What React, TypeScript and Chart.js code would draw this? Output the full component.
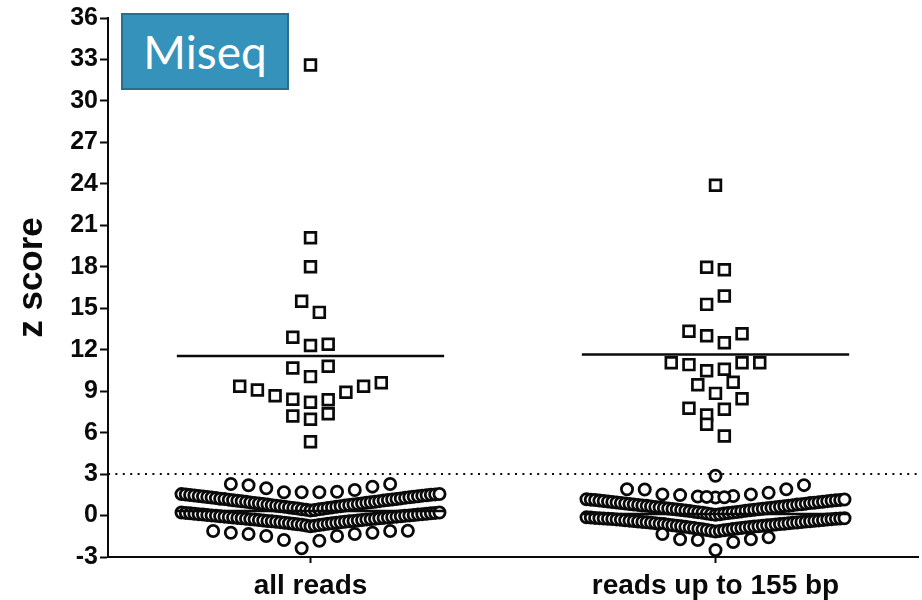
import { useEffect, useRef } from 'react';
import { Chart, registerables } from 'chart.js';

Chart.register(...registerables);

// ---- data -------------------------------------------------------------
const categories = ['all reads', 'reads up to 155 bp'];
const yAxisTitle = 'z score';
const panelLabel = 'Miseq';
const yMin = -3;
const yMax = 36;
const yStep = 3;
const cutoff = 3;

// Positive samples (squares), one array per dot-plot row, left to right
const allReadsPositiveRows: number[][] = [
  [32.6],
  [20.1],
  [18.0],
  [15.5, 14.7],
  [12.9, 12.3, 12.4],
  [10.67, 10.05, 10.8],
  [9.35, 9.08, 8.67, 8.41, 8.19, 8.38, 8.92, 9.35, 9.61],
  [7.2, 6.96, 7.37],
  [5.34],
];

const shortReadsPositiveRows: number[][] = [
  [23.9],
  [17.96, 17.79],
  [15.28, 15.88],
  [13.33, 13.01, 12.5, 13.16],
  [11.06, 10.92, 10.48, 10.58, 11.06, 11.06],
  [9.47, 8.84, 9.64],
  [7.76, 7.27, 7.69, 8.45],
  [6.6, 5.75],
];

// Negative samples (circles), left to right within each row
const allReadsUpperBand = [
  1.55, 1.52, 1.49, 1.45, 1.41, 1.38, 1.34, 1.30, 1.26, 1.22, 1.19, 1.15, 1.11, 1.07, 1.03,
  0.99, 0.95, 0.91, 0.87, 0.83, 0.79, 0.75, 0.71, 0.67, 0.63, 0.59, 0.55, 0.51, 0.46, 0.41,
  0.36,
  0.40, 0.45, 0.50, 0.55, 0.59, 0.63, 0.67, 0.72, 0.76, 0.80, 0.84, 0.88, 0.92, 0.96, 1.00,
  1.04, 1.08, 1.12, 1.16, 1.20, 1.24, 1.28, 1.32, 1.36, 1.40, 1.44, 1.47, 1.50, 1.53, 1.56,
];
const allReadsLowerBand = [
  0.22, 0.19, 0.16, 0.13, 0.10, 0.07, 0.04, 0.01, -0.02, -0.05, -0.08, -0.11, -0.14, -0.17, -0.20,
  -0.23, -0.26, -0.29, -0.32, -0.36, -0.39, -0.42, -0.45, -0.48, -0.52, -0.55, -0.59, -0.63, -0.67, -0.72,
  -0.78,
  -0.73, -0.68, -0.64, -0.60, -0.56, -0.52, -0.49, -0.45, -0.42, -0.39, -0.36, -0.32, -0.29, -0.26, -0.23,
  -0.20, -0.17, -0.14, -0.11, -0.08, -0.05, -0.02, 0.01, 0.04, 0.07, 0.10, 0.13, 0.16, 0.19, 0.22,
];
const allReadsTopRow = [2.28, 2.19, 1.97, 1.68, 1.68, 1.68, 1.72, 1.85, 2.09, 2.28];
const allReadsBottomRow = [-1.12, -1.24, -1.34, -1.48, -1.77, -2.37, -1.82, -1.48, -1.34, -1.24, -1.12, -1.1];

const shortReadsUpperBand = [
  1.18, 1.15, 1.12, 1.08, 1.05, 1.01, 0.98, 0.94, 0.91, 0.87, 0.84, 0.80, 0.77, 0.73, 0.70,
  0.66, 0.62, 0.59, 0.55, 0.51, 0.47, 0.44, 0.40, 0.36, 0.32, 0.28, 0.24, 0.20, 0.15, 0.10,
  0.05,
  0.09, 0.14, 0.18, 0.22, 0.26, 0.30, 0.34, 0.38, 0.42, 0.46, 0.49, 0.53, 0.57, 0.60, 0.64,
  0.68, 0.71, 0.75, 0.79, 0.82, 0.86, 0.90, 0.93, 0.97, 1.00, 1.04, 1.07, 1.10, 1.13, 1.16,
];
const shortReadsLowerBand = [
  -0.13, -0.15, -0.17, -0.19, -0.21, -0.23, -0.25, -0.28, -0.31, -0.34, -0.37, -0.40, -0.43, -0.46, -0.49,
  -0.52, -0.55, -0.59, -0.62, -0.66, -0.70, -0.74, -0.78, -0.82, -0.86, -0.90, -0.95, -1.00, -1.05, -1.10,
  -1.16,
  -1.11, -1.06, -1.02, -0.98, -0.94, -0.90, -0.86, -0.83, -0.80, -0.77, -0.74, -0.71, -0.68, -0.65, -0.62,
  -0.59, -0.56, -0.53, -0.50, -0.47, -0.44, -0.41, -0.38, -0.35, -0.32, -0.29, -0.26, -0.24, -0.22, -0.20,
];
const shortReadsTopRow = [1.9, 1.88, 1.53, 1.48, 1.38, 1.3, 1.41, 1.53, 1.65, 1.9, 2.2];
const shortReadsTopPair = [1.35, 1.32];
const shortReadsPeak = [2.88];
const shortReadsBottomRow = [-1.34, -1.72, -1.77, -2.5, -1.92, -1.72, -1.58];

const allReadsNegativeRows = [allReadsUpperBand, allReadsLowerBand, allReadsTopRow, allReadsBottomRow];
const shortReadsNegativeRows = [
  shortReadsUpperBand,
  shortReadsLowerBand,
  shortReadsTopRow,
  shortReadsTopPair,
  shortReadsPeak,
  shortReadsBottomRow,
];

// ---- layout helpers ---------------------------------------------------
const INK = '#0a0a0a';
const FONT = "'Liberation Sans', Arial, Helvetica, sans-serif";
const SLOT = 0.0437; // horizontal distance between neighbouring symbols (x units)
const MAX_ROW = 0.637; // widest a row may spread inside a column (x units)
const MEAN_HALF = 0.33; // half length of the mean bar

type Pt = { x: number; y: number };

// spread each row evenly around the column centre, compressing long rows
function spreadRows(center: number, rows: number[][]): Pt[] {
  const pts: Pt[] = [];
  rows.forEach((row) => {
    const n = row.length;
    const step = n > 1 ? Math.min(SLOT, MAX_ROW / (n - 1)) : 0;
    row.forEach((v, i) => pts.push({ x: center + (i - (n - 1) / 2) * step, y: v }));
  });
  return pts;
}

function meanOf(rows: number[][]): number {
  const all = rows.flat();
  return all.reduce((s, v) => s + v, 0) / all.length;
}

function meanBar(center: number, rows: number[][]) {
  const m = meanOf(rows);
  return {
    type: 'line' as const,
    data: [
      { x: center - MEAN_HALF, y: m },
      { x: center + MEAN_HALF, y: m },
    ],
    showLine: true,
    borderColor: INK,
    borderWidth: 2.5,
    pointRadius: 0,
  };
}

const yTitlePlugin = {
  id: 'yTitle',
  afterDraw(chart: any) {
    const { ctx, chartArea } = chart;
    ctx.save();
    ctx.translate(32, (chartArea.top + chartArea.bottom) / 2 - 10);
    ctx.rotate(-Math.PI / 2);
    ctx.font = `bold 35px ${FONT}`;
    ctx.fillStyle = INK;
    ctx.textAlign = 'center';
    ctx.textBaseline = 'middle';
    ctx.fillText(yAxisTitle, 0, 0);
    ctx.restore();
  },
};

export default function App() {
  const canvasRef = useRef<HTMLCanvasElement | null>(null);

  useEffect(() => {
    if (!canvasRef.current) return;
    const positives = [allReadsPositiveRows, shortReadsPositiveRows];
    const negatives = [allReadsNegativeRows, shortReadsNegativeRows];

    const datasets: any[] = [
      {
        type: 'line',
        data: [
          { x: 0.5, y: cutoff },
          { x: 2.5, y: cutoff },
        ],
        showLine: true,
        borderColor: INK,
        borderWidth: 2,
        borderDash: [2, 5.4],
        pointRadius: 0,
      },
      ...positives.map((rows, i) => meanBar(i + 1, rows)),
      ...negatives.map((rows, i) => meanBar(i + 1, rows)),
      ...positives.map((rows, i) => ({
        type: 'scatter',
        data: spreadRows(i + 1, rows),
        pointStyle: 'rect',
        pointRadius: 7.6,
        borderWidth: 2.7,
        borderColor: INK,
        backgroundColor: '#ffffff',
      })),
      ...negatives.map((rows, i) => ({
        type: 'scatter',
        data: spreadRows(i + 1, rows),
        pointStyle: 'circle',
        pointRadius: 5.6,
        borderWidth: 2.8,
        borderColor: INK,
        backgroundColor: '#ffffff',
      })),
    ];

    const chart = new Chart(canvasRef.current, {
      type: 'scatter',
      data: { datasets },
      options: {
        animation: false,
        responsive: false,
        layout: { autoPadding: false, padding: { top: 18, right: 4, left: 0, bottom: 0 } },
        plugins: { legend: { display: false }, tooltip: { enabled: false } },
        scales: {
          x: {
            type: 'linear',
            min: 0.5,
            max: 2.5,
            afterFit(s: any) {
              s.height = 43;
              s.paddingLeft = 0;
              s.paddingRight = 0;
            },
            afterBuildTicks(s: any) {
              s.ticks = categories.map((_, i) => ({ value: i + 1 }));
            },
            ticks: {
              autoSkip: false,
              maxRotation: 0,
              padding: 6,
              color: INK,
              font: { family: FONT, size: 28, weight: 'bold' },
              callback: (v: any) => categories[Number(v) - 1] ?? '',
            },
            grid: {
              drawOnChartArea: false,
              drawTicks: true,
              tickLength: 6,
              tickWidth: 2,
              tickColor: INK,
            },
            border: { display: true, color: INK, width: 2 },
          },
          y: {
            min: yMin,
            max: yMax,
            afterFit(s: any) {
              s.width = 108;
              s.paddingTop = 0;
              s.paddingBottom = 0;
            },
            ticks: {
              stepSize: yStep,
              padding: 2,
              color: INK,
              font: { family: FONT, size: 25, weight: 'bold' },
            },
            grid: {
              drawOnChartArea: false,
              drawTicks: true,
              tickLength: 8,
              tickWidth: 2,
              tickColor: INK,
            },
            border: { display: true, color: INK, width: 2 },
          },
        },
      },
      plugins: [yTitlePlugin],
    });
    return () => chart.destroy();
  }, []);

  return (
    <div style={{ position: 'absolute', left: 0, top: 0, width: 922, height: 600, background: '#fff' }}>
      <canvas ref={canvasRef} width={922} height={600} />
      <div
        style={{
          position: 'absolute',
          left: 121,
          top: 13,
          width: 168,
          height: 77,
          boxSizing: 'border-box',
          background: '#3592ba',
          border: '2px solid #2a6e8e',
          color: '#ffffff',
          fontFamily: "Lato, 'Open Sans', sans-serif",
          fontSize: 46,
          display: 'flex',
          alignItems: 'center',
          justifyContent: 'center',
          lineHeight: 1,
        }}
      >
        {panelLabel}
      </div>
    </div>
  );
}
